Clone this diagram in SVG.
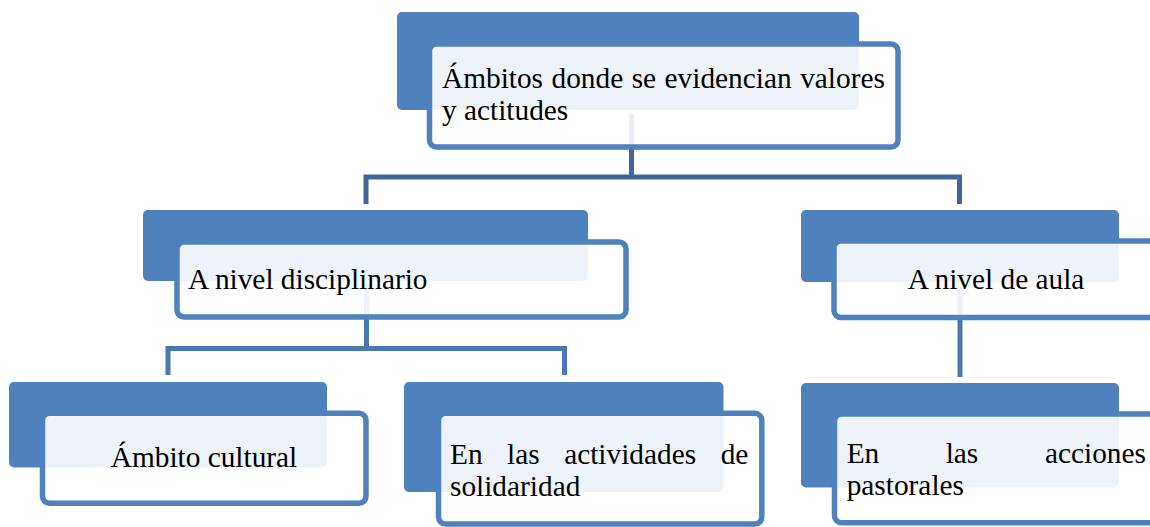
<svg xmlns="http://www.w3.org/2000/svg" width="1150" height="527" viewBox="0 0 1150 527">
<style>
.back{fill:#4F81BD;}
.front{fill:#FFFFFF;fill-opacity:0.9;stroke:#4F81BD;stroke-width:5.5;}
.c1{fill:none;stroke:#41679A;stroke-width:5;}
.c2{fill:none;stroke:#4A79B2;stroke-width:5;}
.t{font-family:"Liberation Serif",serif;font-size:29.33px;fill:#000;}
</style>
<rect width="1150" height="527" fill="#FFFFFF"/>
<g id="connectors">
<path class="c1" d="M631.5,114 V177 M366,204 V177 H959.5 V204"/>
<path class="c2" d="M366.5,284 V348.5 M168,375 V348.5 H564.5 V375"/>
<path class="c2" d="M960,287 V377"/>
</g>
<g id="node-root">
<rect class="back" x="397" y="12" width="462" height="98" rx="5"/>
<rect class="front" x="429.5" y="44" width="468.5" height="103" rx="7"/>
<text class="t" y="88"><tspan x="442">Ámbitos</tspan><tspan x="551.5">donde</tspan><tspan x="631.7">se</tspan><tspan x="664.6">evidencian</tspan><tspan x="800.2">valores</tspan></text>
<text class="t" x="442" y="120">y actitudes</text>
</g>
<g id="node-disciplinario">
<rect class="back" x="143" y="210" width="445" height="71" rx="5"/>
<rect class="front" x="177" y="242" width="449" height="75" rx="7"/>
<text class="t" x="188" y="289">A nivel disciplinario</text>
</g>
<g id="node-aula">
<rect class="back" x="801" y="210" width="318" height="72" rx="5"/>
<rect class="front" x="834" y="241" width="324" height="76.5" rx="7"/>
<text class="t" x="996" y="289" text-anchor="middle">A nivel de aula</text>
</g>
<g id="node-cultural">
<rect class="back" x="9" y="382" width="318" height="85.5" rx="5"/>
<rect class="front" x="42.5" y="413.3" width="323.5" height="90" rx="7"/>
<text class="t" x="204" y="467" text-anchor="middle">Ámbito cultural</text>
</g>
<g id="node-solidaridad">
<rect class="back" x="404" y="382" width="319.5" height="110" rx="5"/>
<rect class="front" x="438.5" y="413.3" width="323.3" height="110.7" rx="7"/>
<text class="t" y="464"><tspan x="450">En</tspan><tspan x="507.1">las</tspan><tspan x="564.2">actividades</tspan><tspan x="720.7">de</tspan></text>
<text class="t" x="450" y="495.5">solidaridad</text>
</g>
<g id="node-pastorales">
<rect class="back" x="801" y="383" width="318" height="104.5" rx="5"/>
<rect class="front" x="834.5" y="414" width="324" height="108.7" rx="7"/>
<text class="t" y="462.5"><tspan x="846.7">En</tspan><tspan x="945.7">las</tspan><tspan x="1045">acciones</tspan></text>
<text class="t" x="846.7" y="494.5">pastorales</text>
</g>
</svg>
